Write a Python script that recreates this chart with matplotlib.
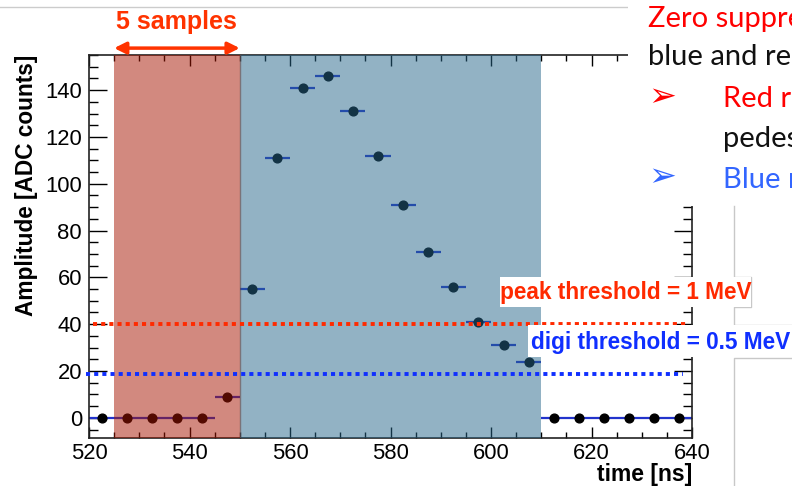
import matplotlib
matplotlib.use("Agg")
import matplotlib.pyplot as plt
from matplotlib.patches import Rectangle
from matplotlib.lines import Line2D
from matplotlib.ticker import MultipleLocator

# sample times (bin centres, ns) and amplitudes (ADC counts)
times = [522.5, 527.5, 532.5, 537.5, 542.5, 547.5, 552.5, 557.5, 562.5, 567.5,
         572.5, 577.5, 582.5, 587.5, 592.5, 597.5, 602.5, 607.5,
         612.5, 617.5, 622.5, 627.5, 632.5, 637.5]
amps = [0, 0, 0, 0, 0, 9, 55, 111, 141, 146,
        131, 112, 91, 71, 56, 41, 31, 24,
        0, 0, 0, 0, 0, 0]
half_bin = 2.5

red_region = (525, 550)
blue_region = (550, 610)
peak_thr = 40
digi_thr = 18.6

W, H = 792, 486
plt.rcParams['font.family'] = ['Liberation Sans', 'DejaVu Sans']

fig = plt.figure(figsize=(W / 100, H / 100), dpi=100)
ax = fig.add_axes([89 / W, 1 - 437.7 / H, 603 / W, 382.7 / H])

ax.errorbar(times, amps, xerr=half_bin, fmt='o', color='black', ms=6.3,
            ecolor='#2233cc', elinewidth=1.6, capsize=0, zorder=2)

ax.axvspan(*red_region, color=(0.65, 0.08, 0.0), alpha=0.5, lw=0, zorder=3)
ax.axvspan(*blue_region, color=(0.15, 0.40, 0.54), alpha=0.5, lw=0, zorder=3)
ax.axvline(red_region[1], color='#6a4a48', lw=1.0, alpha=0.6, zorder=3)

ax.plot([520.8, 639.0], [peak_thr, peak_thr], color='#ff2a00', lw=2.8,
        dashes=(1.05, 1.05), dash_capstyle='butt', clip_on=False, zorder=4)
ax.plot([519.4, 638.2], [digi_thr, digi_thr], color='#0f2fff', lw=2.8,
        dashes=(1.05, 1.05), dash_capstyle='butt', clip_on=False, zorder=4)

ax.set_xlim(520, 640)
ax.set_ylim(-8.5, 155)
ax.xaxis.set_major_locator(MultipleLocator(20))
ax.xaxis.set_minor_locator(MultipleLocator(5))
ax.yaxis.set_major_locator(MultipleLocator(20))
ax.yaxis.set_minor_locator(MultipleLocator(5))
ax.tick_params(axis='x', which='major', direction='in', length=8, width=1,
               top=True, labelsize=15.8, pad=4)
ax.tick_params(axis='x', which='minor', direction='in', length=4, width=1, top=True)
ax.tick_params(axis='y', which='major', direction='in', length=13, width=1,
               right=True, labelsize=15.8, pad=5)
ax.tick_params(axis='y', which='minor', direction='in', length=6.5, width=1, right=True)
for s in ax.spines.values():
    s.set_linewidth(1.2)
    s.set_color('#222222')

ax.text(-0.103, 1.0, 'Amplitude [ADC counts]', rotation=90, ha='center', va='top',
        fontsize=16.3, fontweight='bold', transform=ax.transAxes)
ax.text(1.0, -0.114, 'time [ns]', ha='right', va='baseline',
        fontsize=16.5, fontweight='bold', transform=ax.transAxes)

# "5 samples" arrow above the red region
ax.annotate('', xy=(red_region[0], 1.018), xytext=(red_region[1], 1.018),
            xycoords=('data', 'axes fraction'), textcoords=('data', 'axes fraction'),
            arrowprops=dict(arrowstyle='<|-|>,head_length=0.7,head_width=0.35',
                            color='#ff3300', lw=2.5, shrinkA=0, shrinkB=0),
            annotation_clip=False)
ax.text(537.5, 1.086, '5 samples', ha='center', va='center', color='#ff3300',
        fontsize=18, fontweight='bold', transform=ax.get_xaxis_transform())


def px(x, y):
    return x / W, 1 - y / H


# slide elements around the plot
fig.add_artist(Line2D([0, 628 / W], [1 - 7 / H] * 2, color='#cccccc', lw=1,
                      transform=fig.transFigure))
fig.add_artist(Rectangle(px(628, 206), (W - 628) / W, 206 / H, facecolor='white',
                         edgecolor='none', transform=fig.transFigure, zorder=5))
frame1 = [(734, 206), (734, 277), (751, 277), (751, 307), (734, 307), (734, 325), (792, 325)]
frame2 = [(792, 358), (734, 358), (734, 486)]
for fr in (frame1, frame2):
    xs = [p[0] / W for p in fr]
    ys = [1 - p[1] / H for p in fr]
    fig.add_artist(Line2D(xs, ys, color='#c8c8c8', lw=1, transform=fig.transFigure, zorder=5))

fig.add_artist(Rectangle(px(500, 307), 251 / W, 30 / H, facecolor='white',
                         edgecolor='none', transform=fig.transFigure, zorder=6))
fig.add_artist(Rectangle(px(528, 357), (W - 528) / W, 32 / H, facecolor='white',
                         edgecolor='none', transform=fig.transFigure, zorder=6))
fig.text(*px(626, 293), 'peak threshold = 1 MeV', ha='center', va='center',
         color='#ff2a00', fontsize=16.3, fontweight='bold', zorder=7)
fig.text(*px(661, 342), 'digi threshold = 0.5 MeV', ha='center', va='center',
         color='#0f2fff', fontsize=16.3, fontweight='bold', zorder=7)

slide_font = ['Lato', 'DejaVu Sans']
fig.text(*px(648, 27), 'Zero suppression', color='#ff0000', fontsize=21,
         family=slide_font, va='baseline', zorder=7)
fig.text(*px(648, 65), 'blue and red regions', color='#111111', fontsize=21,
         family=slide_font, va='baseline', zorder=7)
fig.text(*px(648, 97), '\u27a2', color='#ff0000', fontsize=24,
         family=['DejaVu Sans'], va='center', zorder=7)
fig.text(*px(723, 107), 'Red region', color='#ff0000', fontsize=21,
         family=slide_font, va='baseline', zorder=7)
fig.text(*px(723, 147), 'pedestal', color='#111111', fontsize=21,
         family=slide_font, va='baseline', zorder=7)
fig.text(*px(648, 177), '\u27a2', color='#3366ff', fontsize=24,
         family=['DejaVu Sans'], va='center', zorder=7)
fig.text(*px(723, 188), 'Blue region', color='#3366ff', fontsize=21,
         family=slide_font, va='baseline', zorder=7)

fig.savefig('out.png', dpi=100)
